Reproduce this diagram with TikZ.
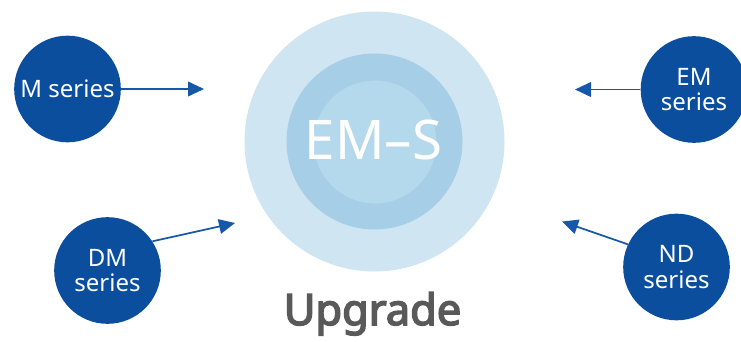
\documentclass[tikz,border=0pt]{standalone}
\usepackage{fontspec}
\setmainfont{Noto Sans}
\newfontfamily\heavysans{Noto Sans}[FakeBold=3.5]
\usetikzlibrary{positioning,arrows.meta}
\definecolor{seriesblue}{HTML}{0C4E9E}
\definecolor{arrowblue}{HTML}{1657A8}
\definecolor{ringouter}{HTML}{CFE5F2}
\definecolor{ringmid}{HTML}{A6CFE7}
\definecolor{ringinner}{HTML}{B5D9EC}
\definecolor{labelgray}{HTML}{595959}
\tikzset{
    series/.style={circle, fill=seriesblue, text=white, minimum size=80pt, inner sep=0pt,
        align=center, font=\fontsize{18}{19}\selectfont},
    ring/.style={circle, inner sep=0pt},
    feed/.style={draw=arrowblue, line width=1.3pt, -{Triangle[length=12pt,width=11pt]}},
}

\begin{document}
\begin{tikzpicture}[x=0.75pt, y=-0.75pt]
        \useasboundingbox (0,0) rectangle (741,342);

        % centre rings
        \node[ring, fill=ringouter, minimum size=195pt] (outer) at (374.5,141.5) {};
        \node[ring, fill=ringmid, minimum size=132pt] (middle) at (374.5,141.5) {};
        \node[ring, fill=ringinner, minimum size=92pt] (core) at (375,142) {};
        \node[anchor=base, text=white, font=\fontsize{41}{41}\selectfont] (ems) at (373.5,159) {EM–S};
        \node[anchor=base, text=labelgray, font=\heavysans\fontsize{32.5}{32.5}\selectfont] (upgrade) at (372.5,325) {Upgrade};

        \foreach \name/\pos/\txt in {m/{67.5,89}/{M series}, dm/{107.5,270.5}/{DM\\series},
                em/{694,89.5}/{EM\\series}, nd/{676.5,267}/{ND\\series}}
            \node[series] (\name) at (\pos) {\txt};

        \coordinate (mtip) at (204,89);
        \coordinate (dmtip) at (235,223);
        \coordinate (emtip) at (575,89.5);
        \coordinate (ndtip) at (562,221.5);

        \foreach \from/\ang/\to in {m/0/mtip, dm/33/dmtip, em/180/emtip, nd/155/ndtip}
            \draw[feed] (\from.\ang) -- (\to);
    \end{tikzpicture}
\end{document}
